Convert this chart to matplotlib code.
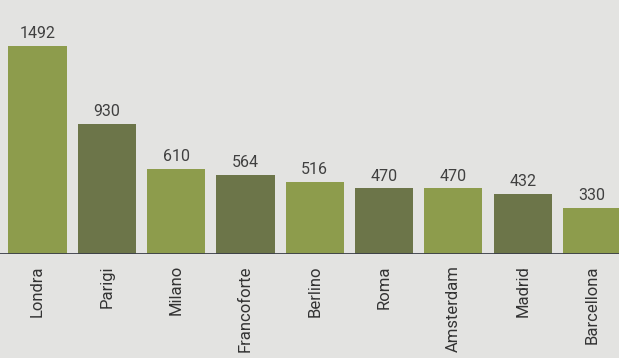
import matplotlib
matplotlib.use("Agg")
import matplotlib.pyplot as plt

cities = ["Londra", "Parigi", "Milano", "Francoforte", "Berlino", "Roma", "Amsterdam", "Madrid", "Barcellona"]
values = [1492, 930, 610, 564, 516, 470, 470, 432, 330]

light = "#8d9c4c"
dark = "#6c7549"
colors = [light if i % 2 == 0 else dark for i in range(len(cities))]

plt.rcParams['font.family'] = ['Roboto', 'DejaVu Sans']

fig = plt.figure(figsize=(6.19, 3.58), dpi=100)
fig.patch.set_facecolor("#e3e3e1")
ax = fig.add_axes([0.0, 0.2905, 1.0, 0.7095])
ax.set_facecolor("#e3e3e1")

x = list(range(len(cities)))
bars = ax.bar(x, values, width=0.84, color=colors, zorder=2)
for xi, v in zip(x, values):
    ax.text(xi, v + 35, str(v), ha="center", va="bottom", fontsize=11.5, color="#404040")

ax.set_xlim(-0.541, 8.39)
ax.set_ylim(0, 1822)
ax.axhline(0, color="#3a3e48", lw=2, zorder=3)
for s in ax.spines.values():
    s.set_visible(False)
ax.set_yticks([])
ax.set_xticks(x)
ax.set_xticklabels(cities, rotation=90, fontsize=12, color="#333333")
ax.tick_params(axis="x", length=0, pad=8)

fig.savefig("out.png", dpi=100, facecolor=fig.get_facecolor())
